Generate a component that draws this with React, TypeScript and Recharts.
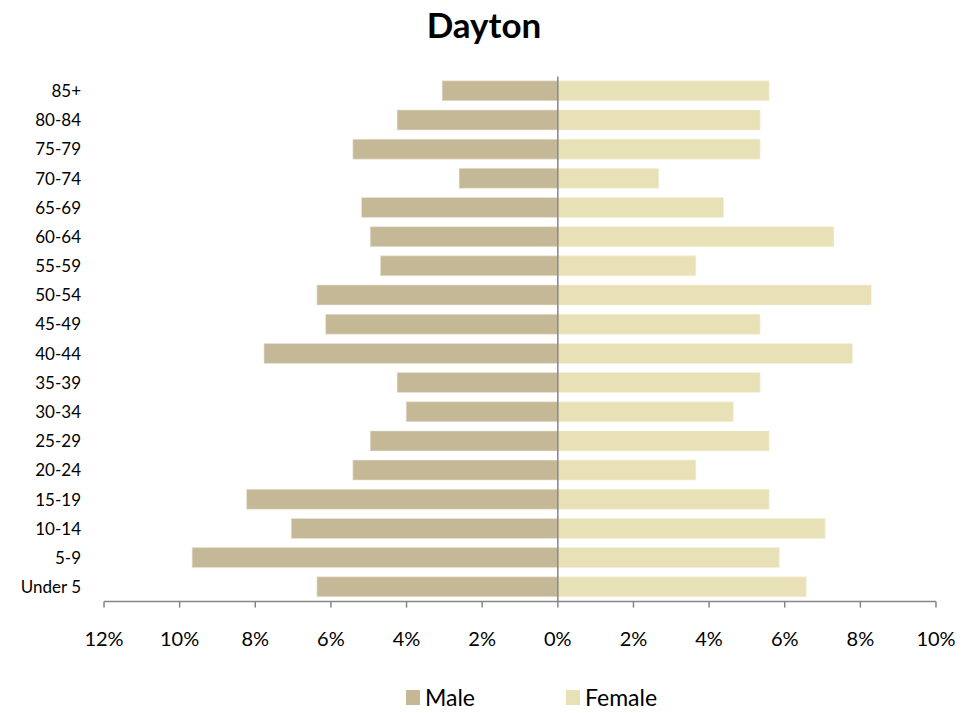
import React from 'react';
import { BarChart, Bar, XAxis, YAxis, ReferenceLine, Legend } from 'recharts';

const categories = ['Under 5', '5-9', '10-14', '15-19', '20-24', '25-29', '30-34', '35-39', '40-44', '45-49', '50-54', '55-59', '60-64', '65-69', '70-74', '75-79', '80-84', '85+'];
const maleValues = [6.37, 9.67, 7.05, 8.23, 5.42, 4.96, 4.01, 4.25, 7.77, 6.14, 6.37, 4.69, 4.96, 5.19, 2.61, 5.42, 4.25, 3.06];
const femaleValues = [6.57, 5.86, 7.07, 5.59, 3.65, 5.59, 4.64, 5.35, 7.79, 5.35, 8.29, 3.65, 7.3, 4.38, 2.67, 5.35, 5.35, 5.59];
const xTicks = [-12, -10, -8, -6, -4, -2, 0, 2, 4, 6, 8, 10];

const MALE_COLOR = '#C4B896';
const FEMALE_COLOR = '#E8E0B6';
const AXIS_COLOR = '#868686';
const FONT = 'Lato, "Open Sans", sans-serif';

const data = categories.map((c, i) => ({
  age: c,
  male: -maleValues[i],
  female: femaleValues[i],
}));

const LegendContent = () => (
  <div style={{ position: 'relative', width: 979, height: 28, fontFamily: FONT, fontSize: 23, color: '#000' }}>
    <div style={{ position: 'absolute', left: 406, top: 7, width: 14, height: 15, background: MALE_COLOR }} />
    <div style={{ position: 'absolute', left: 425, top: 0, lineHeight: '28px' }}>Male</div>
    <div style={{ position: 'absolute', left: 566, top: 7, width: 14, height: 15, background: FEMALE_COLOR }} />
    <div style={{ position: 'absolute', left: 585, top: 0, lineHeight: '28px' }}>Female</div>
  </div>
);

export default function App() {
  return (
    <div style={{ position: 'absolute', left: 0, top: 0, width: 979, height: 713, background: '#fff' }}>
      <BarChart
        width={979}
        height={713}
        data={data}
        layout="vertical"
        stackOffset="sign"
        barCategoryGap="15%"
        margin={{ top: 76.4, right: 43, bottom: 51.4, left: 0 }}
      >
        <text x={484} y={38} textAnchor="middle" fontFamily={FONT} fontWeight="bold" fontSize={35} fill="#000">
          Dayton
        </text>
        <XAxis
          type="number"
          domain={[-12, 10]}
          ticks={xTicks}
          interval={0}
          allowDataOverflow
          height={60}
          stroke={AXIS_COLOR}
          tickSize={6}
          tickMargin={24}
          tickFormatter={(v: number) => `${Math.abs(v)}%`}
          tick={{ fill: '#000', fontSize: 20, fontFamily: FONT }}
          axisLine={{ stroke: AXIS_COLOR, strokeWidth: 1.5 }}
          tickLine={{ stroke: AXIS_COLOR, strokeWidth: 1.5 }}
        />
        <YAxis
          type="category"
          dataKey="age"
          reversed
          width={104}
          axisLine={false}
          tickLine={false}
          tickSize={0}
          tickMargin={23}
          interval={0}
          tick={{ fill: '#000', fontSize: 17, fontFamily: FONT }}
        />
        <Bar dataKey="male" name="Male" stackId="a" fill={MALE_COLOR} stroke="#EDE8DA" strokeWidth={0.6} isAnimationActive={false} />
        <Bar dataKey="female" name="Female" stackId="a" fill={FEMALE_COLOR} stroke="#F5F1DE" strokeWidth={0.6} isAnimationActive={false} />
        <ReferenceLine x={0} stroke={AXIS_COLOR} strokeWidth={1.5} />
        <Legend
          layout="horizontal"
          verticalAlign="middle"
          align="center"
          content={<LegendContent />}
          wrapperStyle={{ top: 683, left: 0, width: 979, height: 28 }}
        />
      </BarChart>
    </div>
  );
}
